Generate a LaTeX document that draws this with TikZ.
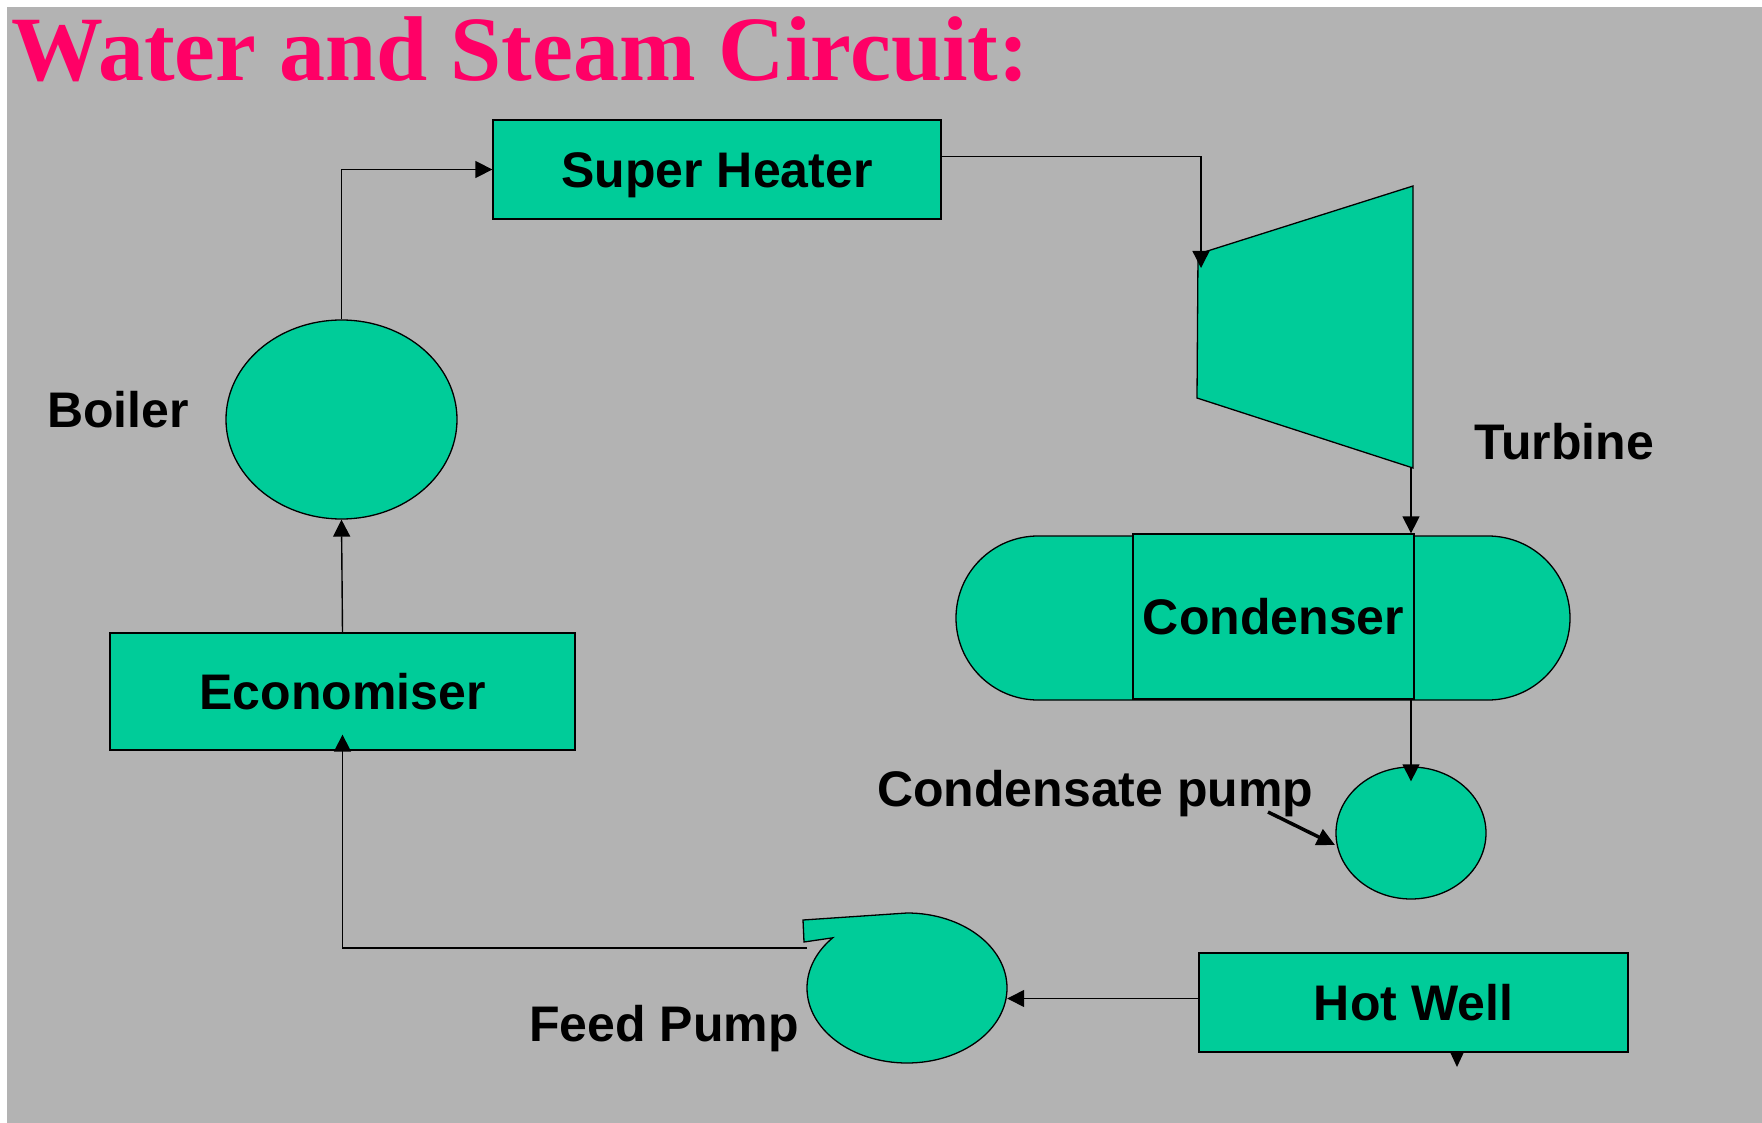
\documentclass[tikz,border=0pt]{standalone}
\usepackage{fontspec}
\setmainfont{Liberation Sans}
\newfontfamily\titlefont{Liberation Serif}
\usetikzlibrary{arrows.meta,shapes.geometric,calc}
\definecolor{bggray}{RGB}{179,179,179}
\definecolor{eqgreen}{RGB}{0,204,153}
\definecolor{titlepink}{RGB}{255,0,102}
\begin{document}
\begin{tikzpicture}[x=1pt,y=-1pt,
  eq/.style={draw=black, fill=eqgreen, line width=1.3pt},
  box/.style={eq, rectangle, inner sep=0pt, font=\fontsize{50}{60}\selectfont\bfseries, text height=36pt, text depth=0pt},
  vessel/.style={eq, ellipse, inner sep=0pt},
  lbl/.style={anchor=base west, inner sep=0pt, font=\fontsize{50}{60}\selectfont\bfseries},
  arr/.style={draw=black, line width=1.4pt, -{Triangle[length=17pt,width=17pt]}},
]
\useasboundingbox (0,0) rectangle (1762,1123);
\fill[white] (0,0) rectangle (1762,1123);
\fill[bggray] (7,7) rectangle (1762,1123);

% title
\node[anchor=base west, inner sep=0pt, text=titlepink,
      font=\titlefont\fontsize{92}{100}\selectfont\bfseries] (title) at (11,81) {Water and Steam Circuit:};

% equipment
\node[box, minimum width=448pt, minimum height=99pt] (sh) at (717,169.5) {Super Heater};
\node[vessel, minimum width=231pt, minimum height=199pt] (boiler) at (341.5,419.5) {};
\node[box, minimum width=465pt, minimum height=117pt] (econ) at (342.5,691.5) {Economiser};

% turbine
\path[eq] (1198,254) -- (1413,186) -- (1413,468) -- (1197,398) -- cycle;
\coordinate (tin) at (1201,268);
\coordinate (tout) at (1411,468);

% condenser
\path[eq, rounded corners=82pt] (956,536) rectangle (1570,700);
\node[box, minimum width=281pt, minimum height=165pt] (cond) at (1273.5,616.5) {Condenser};

% condensate pump
\node[vessel, minimum width=150pt, minimum height=132pt] (cp) at (1411,833) {};

% hot well
\node[box, minimum width=429pt, minimum height=99pt] (hw) at (1413.5,1002.5) {Hot Well};
\fill (1450,1052) -- (1464,1052) -- (1457,1067) -- cycle;

% feed pump
\node[ellipse, minimum width=200pt, minimum height=150pt, inner sep=0pt] (fp) at (907,988) {};
\path[eq] (803,920) -- (907,913) arc[start angle=270, end angle=582, x radius=100, y radius=75] -- (804,942) -- cycle;
\coordinate (fpout) at (807,948);

% labels
\node[lbl] (lboiler) at (47,427) {Boiler};
\node[lbl] (lturb) at (1474,459) {Turbine};
\node[lbl] (lfp) at (529,1041) {Feed Pump};
\node[lbl] (lcp) at (877,806) {Condensate pump};
\coordinate (cparrowstart) at (1268,812);
\coordinate (cparrowend) at (1335,845);

% connectors
\draw[arr] (boiler.north) |- (sh.west);
\draw[arr] ([yshift=13pt]sh.east) -| (tin);
\draw[arr] (tout) -- (tout |- cond.north);
\draw[arr] (cp.north |- cond.south) -- ([yshift=-15pt]cp.north);
\draw[arr] ([yshift=4pt]hw.west) -- ([yshift=4pt]hw.west -| fp.east);
\draw[arr] (fpout) -| ([yshift=16pt]econ.south);
\draw[arr] (econ.north) -- (boiler.south);
\draw[line width=3.5pt, -{Triangle[length=18pt,width=17pt]}] (cparrowstart) -- (cparrowend);
\end{tikzpicture}
\end{document}
